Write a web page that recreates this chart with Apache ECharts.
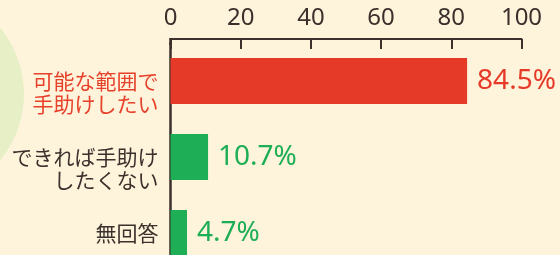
<!DOCTYPE html>
<html lang="ja">
<head>
    <meta charset="UTF-8">
    <title>手助け</title>
    <script src="https://cdn.jsdelivr.net/npm/echarts@6/dist/echarts.min.js"></script>
    <style>
        html, body { margin: 0; padding: 0; background: #fef4dc; }
        #chart1 { width: 560px; height: 255px; }
    </style>
</head>
<body>
    <div id="chart1"></div>
<script type="text/javascript">
    // 回答（上から）
    var categories = ['可能な範囲で\n手助けしたい', 'できれば手助け\nしたくない', '無回答']
    var values = [84.5, 10.7, 4.7]
    var barColors = ['#e63a28', '#1dae56', '#1dae56']
    var labelColors = ['#e8412b', '#3b302b', '#3b302b']
    var ticks = [0, 20, 40, 60, 80, 100]

    var chart = echarts.init(document.getElementById('chart1'))

    var option = {
        backgroundColor: '#fef4dc',
        animation: false,
        graphic: [
            // 左の薄い緑の円
            { type: 'circle', shape: { cx: -80, cy: 94, r: 104 }, style: { fill: '#e6efc5' }, z: -1 },
            // 縦軸の上端をつなぐ
            { type: 'line', shape: { x1: 170.5, y1: 38, x2: 170.5, y2: 45 }, style: { stroke: '#3b302b', lineWidth: 2.5 }, z: 10 }
        ],
        grid: { left: 170.5, right: 38.5, top: 43, bottom: -16, outerBoundsMode: 'none' },
        xAxis: {
            type: 'value',
            position: 'top',
            offset: 4,
            min: ticks[0],
            max: ticks[ticks.length - 1],
            interval: 20,
            splitLine: { show: false },
            axisLine: { show: true, lineStyle: { color: '#3b302b', width: 2 } },
            axisTick: { show: true, inside: true, length: 10, lineStyle: { color: '#3b302b', width: 2 } },
            axisLabel: { color: '#3b302b', fontSize: 24, fontFamily: 'Noto Sans', margin: 9 }
        },
        yAxis: {
            type: 'category',
            inverse: true,
            data: categories.map(function (c, i) {
                return { value: c, textStyle: { color: labelColors[i] } }
            }),
            axisLine: { show: true, lineStyle: { color: '#3b302b', width: 2.5 } },
            axisTick: { show: false },
            axisLabel: {
                fontSize: 21,
                lineHeight: 23,
                fontFamily: 'Noto Sans CJK JP',
                margin: 12,
                align: 'right',
                // 2行のラベルは少し下げる
                formatter: function (v) {
                    return v.indexOf('\n') >= 0 ? '\n' + v : v
                }
            }
        },
        series: [
            {
                type: 'bar',
                data: values.map(function (v, i) {
                    return {
                        value: v,
                        itemStyle: { color: barColors[i] },
                        label: { color: barColors[i] }
                    }
                }),
                barWidth: 46,
                label: {
                    show: true,
                    position: 'right',
                    distance: 10,
                    fontSize: 28,
                    fontFamily: 'Noto Sans',
                    formatter: '{c}%'
                }
            }
        ]
    }
    chart.setOption(option)
</script>
</body>
</html>
